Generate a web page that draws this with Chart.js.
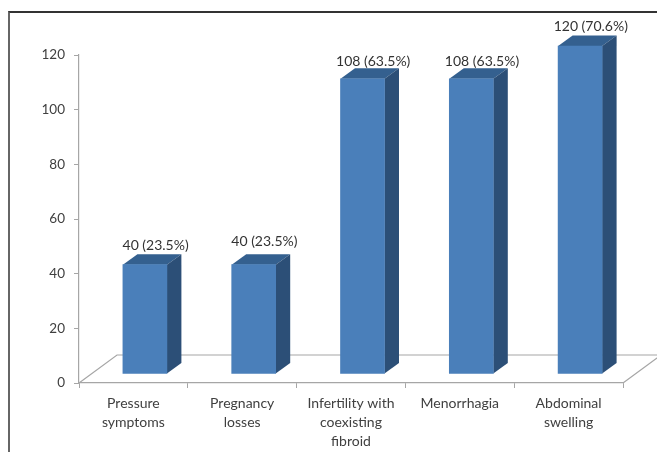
<!DOCTYPE html>
<html>
<head>
<meta charset="utf-8">
<script src="https://cdn.jsdelivr.net/npm/chart.js@4"></script>
<style>
  html, body { margin: 0; padding: 0; background: #fff; overflow: hidden; }
  #wrap { position: relative; width: 657px; height: 452px; }
  #frame { position: absolute; left: 8px; top: 11px; right: 0; bottom: 0; border-top: 2px solid #333; border-left: 2px solid #666; }
  canvas { position: absolute; left: 0; top: 0; }
</style>
</head>
<body>
<div id="wrap">
  <div id="frame"></div>
  <canvas id="chart" width="657" height="452"></canvas>
</div>
<script>
const categories = [
  ['Pressure', 'symptoms'],
  ['Pregnancy', 'losses'],
  ['Infertility with', 'coexisting', 'fibroid'],
  ['Menorrhagia'],
  ['Abdominal', 'swelling']
];
const values = [40, 40, 108, 108, 120];
const percents = ['23.5%', '23.5%', '63.5%', '63.5%', '70.6%'];
const yTicks = [0, 20, 40, 60, 80, 100, 120];

// 3d look
const FRONT = '#4a7fba', SIDE = '#2c4f77', TOP = '#34608f', FLOOR = '#a6a6a6';
const barShift = { x: 11.5, y: -9 };
const depth = { x: 14.5, y: 10.5 };
const floor = { x: 38, y: 28 };
const labelGap = [19, 23, 17, 17, 20];
const fontName = 'Lato, "Open Sans", sans-serif';

const fake3d = {
  id: 'fake3d',
  beforeDatasetsDraw(chart) {
    // floor of the box, behind the bars
    const { ctx, chartArea: a } = chart;
    ctx.save();
    ctx.strokeStyle = FLOOR;
    ctx.lineWidth = 1.2;
    ctx.beginPath();
    ctx.moveTo(a.left, a.bottom);
    ctx.lineTo(a.left + floor.x, a.bottom - floor.y);
    ctx.lineTo(a.right + floor.x, a.bottom - floor.y);
    ctx.lineTo(a.right, a.bottom);
    ctx.stroke();
    ctx.restore();
  },
  beforeDatasetDraw(chart, args) {
    const { ctx } = chart;
    ctx.save();
    ctx.translate(barShift.x, barShift.y);
    args.meta.data.forEach(bar => {
      const l = bar.x - bar.width / 2, r = bar.x + bar.width / 2;
      ctx.fillStyle = TOP;
      ctx.beginPath();
      ctx.moveTo(l, bar.y);
      ctx.lineTo(l + depth.x, bar.y - depth.y);
      ctx.lineTo(r + depth.x, bar.y - depth.y);
      ctx.lineTo(r, bar.y);
      ctx.closePath();
      ctx.fill();
      ctx.fillStyle = SIDE;
      ctx.beginPath();
      ctx.moveTo(r, bar.y);
      ctx.lineTo(r + depth.x, bar.y - depth.y);
      ctx.lineTo(r + depth.x, bar.base - depth.y);
      ctx.lineTo(r, bar.base);
      ctx.closePath();
      ctx.fill();
    });
  },
  afterDatasetDraw(chart) {
    chart.ctx.restore();
  },
  afterDatasetsDraw(chart) {
    const { ctx } = chart;
    ctx.save();
    ctx.font = '14px ' + fontName;
    ctx.fillStyle = '#333';
    ctx.textAlign = 'center';
    ctx.textBaseline = 'middle';
    chart.getDatasetMeta(0).data.forEach((bar, i) => {
      const text = values[i] + ' (' + percents[i] + ')';
      ctx.fillText(text, bar.x + barShift.x + 10.7, bar.y + barShift.y - labelGap[i]);
    });
    ctx.restore();
  }
};

new Chart(document.getElementById('chart').getContext('2d'), {
  type: 'bar',
  data: {
    labels: categories,
    datasets: [{
      data: values,
      backgroundColor: FRONT,
      barThickness: 44,
      clip: false
    }]
  },
  options: {
    responsive: false,
    animation: false,
    layout: { padding: { top: 55, right: 34 } },
    plugins: { legend: { display: false }, tooltip: { enabled: false } },
    scales: {
      x: {
        afterFit: s => { s.height = 69; },
        border: { color: FLOOR, width: 1.2 },
        grid: { drawOnChartArea: false, color: FLOOR, tickLength: 5 },
        ticks: {
          color: '#404040',
          padding: 6,
          maxRotation: 0,
          autoSkip: false,
          font: { family: fontName, size: 14, lineHeight: 1.36 }
        }
      },
      y: {
        min: 0,
        max: 120,
        afterFit: s => { s.width = 79; },
        afterBuildTicks: s => { s.ticks = yTicks.map(v => ({ value: v })); },
        border: { color: FLOOR, width: 1.2 },
        grid: { drawOnChartArea: false, color: FLOOR, tickLength: 5 },
        ticks: {
          color: '#404040',
          padding: 9,
          font: { family: fontName, size: 13.5 }
        }
      }
    }
  },
  plugins: [fake3d]
});
</script>
</body>
</html>
